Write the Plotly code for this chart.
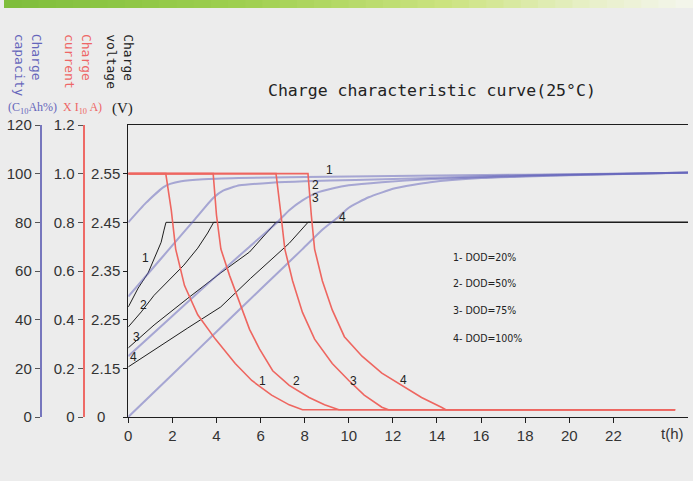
import plotly.graph_objects as go

# ---------------- data ----------------
x_ticks = [0, 2, 4, 6, 8, 10, 12, 14, 16, 18, 20, 22]

cap_ticks = [0, 20, 40, 60, 80, 100, 120]
cur_ticks = [0, 0.2, 0.4, 0.6, 0.8, 1.0, 1.2]
cur_ticktext = ["0", "0.2", "0.4", "0.6", "0.8", "1.0", "1.2"]
volt_ticks = [2.05, 2.15, 2.25, 2.35, 2.45, 2.55]
volt_ticktext = ["0\u2002\u2002", "2.15", "2.25", "2.35", "2.45", "2.55"]

# charge current (x I10 A) vs hours, DOD 20/50/75/100 %
cur_t1 = [0, 1.7, 1.95, 2.15, 2.55, 3.15, 3.95, 4.85, 5.6, 6.5, 7.3, 7.9, 24.8]
cur_i1 = [1.0, 1.0, 0.85, 0.69, 0.54, 0.42, 0.32, 0.22, 0.15, 0.09, 0.05, 0.03, 0.03]
cur_t2 = [0, 3.85, 4.0, 4.2, 4.6, 5.05, 5.5, 5.95, 6.55, 7.3, 8.2, 8.9, 9.55, 24.8]
cur_i2 = [1.0, 1.0, 0.83, 0.69, 0.58, 0.47, 0.36, 0.28, 0.19, 0.13, 0.08, 0.05, 0.03, 0.03]
cur_t3 = [0, 6.7, 6.9, 7.1, 7.45, 7.9, 8.45, 9.25, 10.0, 10.7, 11.5, 11.8, 24.8]
cur_i3 = [1.0, 1.0, 0.85, 0.69, 0.56, 0.43, 0.32, 0.22, 0.15, 0.09, 0.04, 0.03, 0.03]
cur_t4 = [0, 8.15, 8.3, 8.45, 8.8, 9.25, 9.8, 10.6, 11.5, 12.4, 13.3, 14.2, 14.4, 24.8]
cur_i4 = [1.0, 1.0, 0.83, 0.69, 0.56, 0.44, 0.33, 0.25, 0.18, 0.13, 0.08, 0.04, 0.03, 0.03]

# charge voltage (V)
volt_t1 = [0, 0.45, 0.9, 1.17, 1.49, 1.62, 1.71, 25.4]
volt_v1 = [2.276, 2.315, 2.346, 2.376, 2.409, 2.434, 2.45, 2.45]
volt_t2 = [0, 0.59, 1.17, 1.94, 2.52, 3.15, 3.6, 3.87, 25.4]
volt_v2 = [2.235, 2.266, 2.30, 2.335, 2.362, 2.397, 2.428, 2.45, 2.45]
volt_t3 = [0, 1.17, 2.7, 4.19, 5.5, 6.7, 25.4]
volt_v3 = [2.192, 2.239, 2.294, 2.346, 2.389, 2.45, 2.45]
volt_t4 = [0, 1.17, 2.7, 4.19, 5.55, 7.3, 8.15, 25.4]
volt_v4 = [2.153, 2.188, 2.233, 2.276, 2.335, 2.407, 2.45, 2.45]

# charge capacity (%)
cap_t1 = [0, 0.8, 1.6, 1.9, 2.4, 3.4, 5, 8, 12, 18, 25.4]
cap_c1 = [80, 88, 94.5, 95.8, 96.9, 97.7, 98.2, 98.6, 99, 99.6, 100.4]
cap_t2 = [0, 1, 2, 3, 3.85, 4.3, 5.05, 6.5, 8, 10.3, 13.7, 18, 25.4]
cap_c2 = [49.5, 60, 70.5, 81, 90, 93, 95.2, 96.3, 96.9, 97.4, 98.2, 99.4, 100.4]
cap_t3 = [0, 2, 4, 5.5, 6.7, 7.3, 7.9, 8.5, 9.3, 10, 11.5, 13.6, 16, 20, 25.4]
cap_c3 = [25, 41.5, 58, 70, 79.5, 85, 89, 92, 94, 95.2, 96.5, 97.7, 98.5, 99.5, 100.5]
cap_t4 = [0, 2, 4, 6, 7.9, 8.8, 9.5, 10, 10.9, 12.1, 13.7, 16, 20, 25.4]
cap_c4 = [0, 17.5, 35, 52.5, 69, 77, 82, 86, 90.3, 94, 96.5, 98.2, 99.4, 100.5]

legend_lines = ["1- DOD=20%", "2- DOD=50%", "3- DOD=75%", "4- DOD=100%"]

# ---------------- styling ----------------
W, H = 693, 481
ML, MR, MT, MB = 0, 5, 125, 64
PW = W - ML - MR
PH = H - MT - MB
BG = "#ececec"
BLUE = "rgba(95,95,185,0.5)"
BLUE_AX = "#7676bd"
RED = "#ee6660"
RED_AX = "#ee6a66"
BLACK = "#1e1e1e"
TXT = "#333333"
MONO = "DejaVu Sans Mono"
SANS = "Liberation Sans"


def px_x(px):
    return (px - ML) / PW


def px_y(py):
    return (H - MB - py) / PH


fig = go.Figure()

for t, c in [(cap_t1, cap_c1), (cap_t2, cap_c2), (cap_t3, cap_c3), (cap_t4, cap_c4)]:
    fig.add_trace(go.Scatter(x=t, y=c, yaxis="y2", mode="lines",
                             line=dict(color=BLUE, width=2, shape="spline", smoothing=0.5),
                             hoverinfo="skip", showlegend=False))

for t, i in [(cur_t1, cur_i1), (cur_t2, cur_i2), (cur_t3, cur_i3), (cur_t4, cur_i4)]:
    fig.add_trace(go.Scatter(x=t, y=i, yaxis="y3", mode="lines",
                             line=dict(color=RED, width=1.6),
                             hoverinfo="skip", showlegend=False))

for t, v in [(volt_t1, volt_v1), (volt_t2, volt_v2), (volt_t3, volt_v3), (volt_t4, volt_v4)]:
    fig.add_trace(go.Scatter(x=t, y=v, yaxis="y", mode="lines",
                             line=dict(color=BLACK, width=1),
                             hoverinfo="skip", showlegend=False))

x0 = px_x(125)
x_max = (688 - 125) / 22.18

fig.update_layout(
    width=W, height=H, autosize=False,
    margin=dict(l=ML, r=MR, t=MT, b=MB, pad=0),
    paper_bgcolor=BG, plot_bgcolor=BG,
    showlegend=False,
    xaxis=dict(domain=[x0, 1], range=[0, x_max], tickvals=x_ticks,
               showline=True, linecolor=BLACK, linewidth=1, mirror=True,
               ticks="outside", ticklen=5, tickcolor=BLACK,
               showgrid=False, zeroline=False,
               tickfont=dict(family=SANS, size=15, color=TXT)),
    yaxis=dict(range=[2.05, 2.65], tickvals=volt_ticks, ticktext=volt_ticktext,
               anchor="x", showline=True, linecolor=BLACK, linewidth=1,
               ticks="outside", ticklen=4, tickcolor=BLACK,
               showgrid=False, zeroline=False,
               tickfont=dict(family=SANS, size=15, color=TXT)),
    yaxis2=dict(range=[0, 120], tickvals=cap_ticks, overlaying="y", anchor="free",
                position=px_x(37), side="left",
                showline=True, linecolor=BLUE_AX, linewidth=2,
                ticks="outside", ticklen=5, tickcolor="#555555",
                showgrid=False, zeroline=False,
                tickfont=dict(family=SANS, size=15, color=TXT)),
    yaxis3=dict(range=[0, 1.2], tickvals=cur_ticks, ticktext=cur_ticktext,
                overlaying="y", anchor="free", position=px_x(80), side="left",
                showline=True, linecolor=RED_AX, linewidth=2,
                ticks="outside", ticklen=5, tickcolor="#555555",
                showgrid=False, zeroline=False,
                tickfont=dict(family=SANS, size=15, color=TXT)),
)

# header bar (gradient approximated with segments)
stops = [(0.0, (126, 190, 60)), (0.35, (160, 208, 80)), (0.65, (205, 228, 130)),
         (0.85, (232, 240, 200)), (1.0, (245, 246, 238))]
nseg = 40
for k in range(nseg):
    f = (k + 0.5) / nseg
    for (a, ca), (b, cb) in zip(stops[:-1], stops[1:]):
        if a <= f <= b:
            u = (f - a) / (b - a)
            col = tuple(int(ca[j] + (cb[j] - ca[j]) * u) for j in range(3))
            break
    fig.add_shape(type="rect", xref="paper", yref="paper",
                  x0=px_x(W * k / nseg), x1=px_x(W * (k + 1) / nseg + 1),
                  y0=px_y(8), y1=px_y(0), fillcolor="rgb(%d,%d,%d)" % col,
                  line=dict(width=0), layer="below")

ann = []
# title
ann.append(dict(text="Charge characteristic curve(25°C)", xref="paper", yref="paper",
                x=px_x(431), y=px_y(90), xanchor="center", yanchor="middle",
                showarrow=False, font=dict(family=MONO, size=16.5, color="#222222")))
# axis titles (vertical)
for txt, cx, col in [("Charge<br>capacity", 24, "#6666bb"),
                     ("Charge<br>current", 74, "#ee6666"),
                     ("Charge<br>voltage", 116, "#222222")]:
    ann.append(dict(text=txt, xref="paper", yref="paper", x=px_x(cx), y=px_y(32),
                    xanchor="center", yanchor="top", textangle=90, align="left",
                    showarrow=False, font=dict(family=MONO, size=13, color=col)))
ann.append(dict(text="(C<sub>10</sub>Ah%)", xref="paper", yref="paper", x=px_x(2), y=px_y(108),
                xanchor="left", yanchor="middle", showarrow=False,
                font=dict(family="Liberation Serif", size=12, color="#6666bb")))
ann.append(dict(text="X I<sub>10</sub> A)", xref="paper", yref="paper", x=px_x(57), y=px_y(108),
                xanchor="left", yanchor="middle", showarrow=False,
                font=dict(family="Liberation Serif", size=12, color="#ee6666")))
ann.append(dict(text="(V)", xref="paper", yref="paper", x=px_x(119), y=px_y(108),
                xanchor="center", yanchor="middle", showarrow=False,
                font=dict(family="Liberation Serif", size=15, color="#222222")))
# t(h)
ann.append(dict(text="t(h)", xref="paper", yref="paper", x=px_x(672), y=px_y(433),
                xanchor="center", yanchor="middle", showarrow=False,
                font=dict(family=SANS, size=15, color=TXT)))
# curve number labels
for k, (lx, ly) in enumerate([(6.08, 14.8), (7.61, 14.8), (10.23, 14.8), (12.48, 15.2)]):
    ann.append(dict(text=str(k + 1), x=lx, y=ly, xref="x", yref="y2", showarrow=False,
                    font=dict(family=SANS, size=12, color="#222222")))
for k, (lx, ly) in enumerate([(9.14, 101.5), (8.47, 95.5), (8.47, 89.9), (9.73, 82.3)]):
    ann.append(dict(text=str(k + 1), x=lx, y=ly, xref="x", yref="y2", showarrow=False,
                    font=dict(family=SANS, size=12, color="#222222")))
for k, (lx, ly) in enumerate([(0.77, 65.3), (0.68, 46), (0.36, 32.9), (0.23, 24.6)]):
    ann.append(dict(text=str(k + 1), x=lx, y=ly, xref="x", yref="y2", showarrow=False,
                    font=dict(family=SANS, size=12, color="#222222")))
# DOD legend
for k, (txt, ly) in enumerate(zip(legend_lines, [65.7, 55.0, 43.9, 32.4])):
    ann.append(dict(text=txt, x=14.64, y=ly, xref="x", yref="y2", xanchor="left",
                    showarrow=False, font=dict(family="DejaVu Sans Condensed", size=10.5, color="#222222")))

fig.update_layout(annotations=ann)
fig.write_html("out.html")
